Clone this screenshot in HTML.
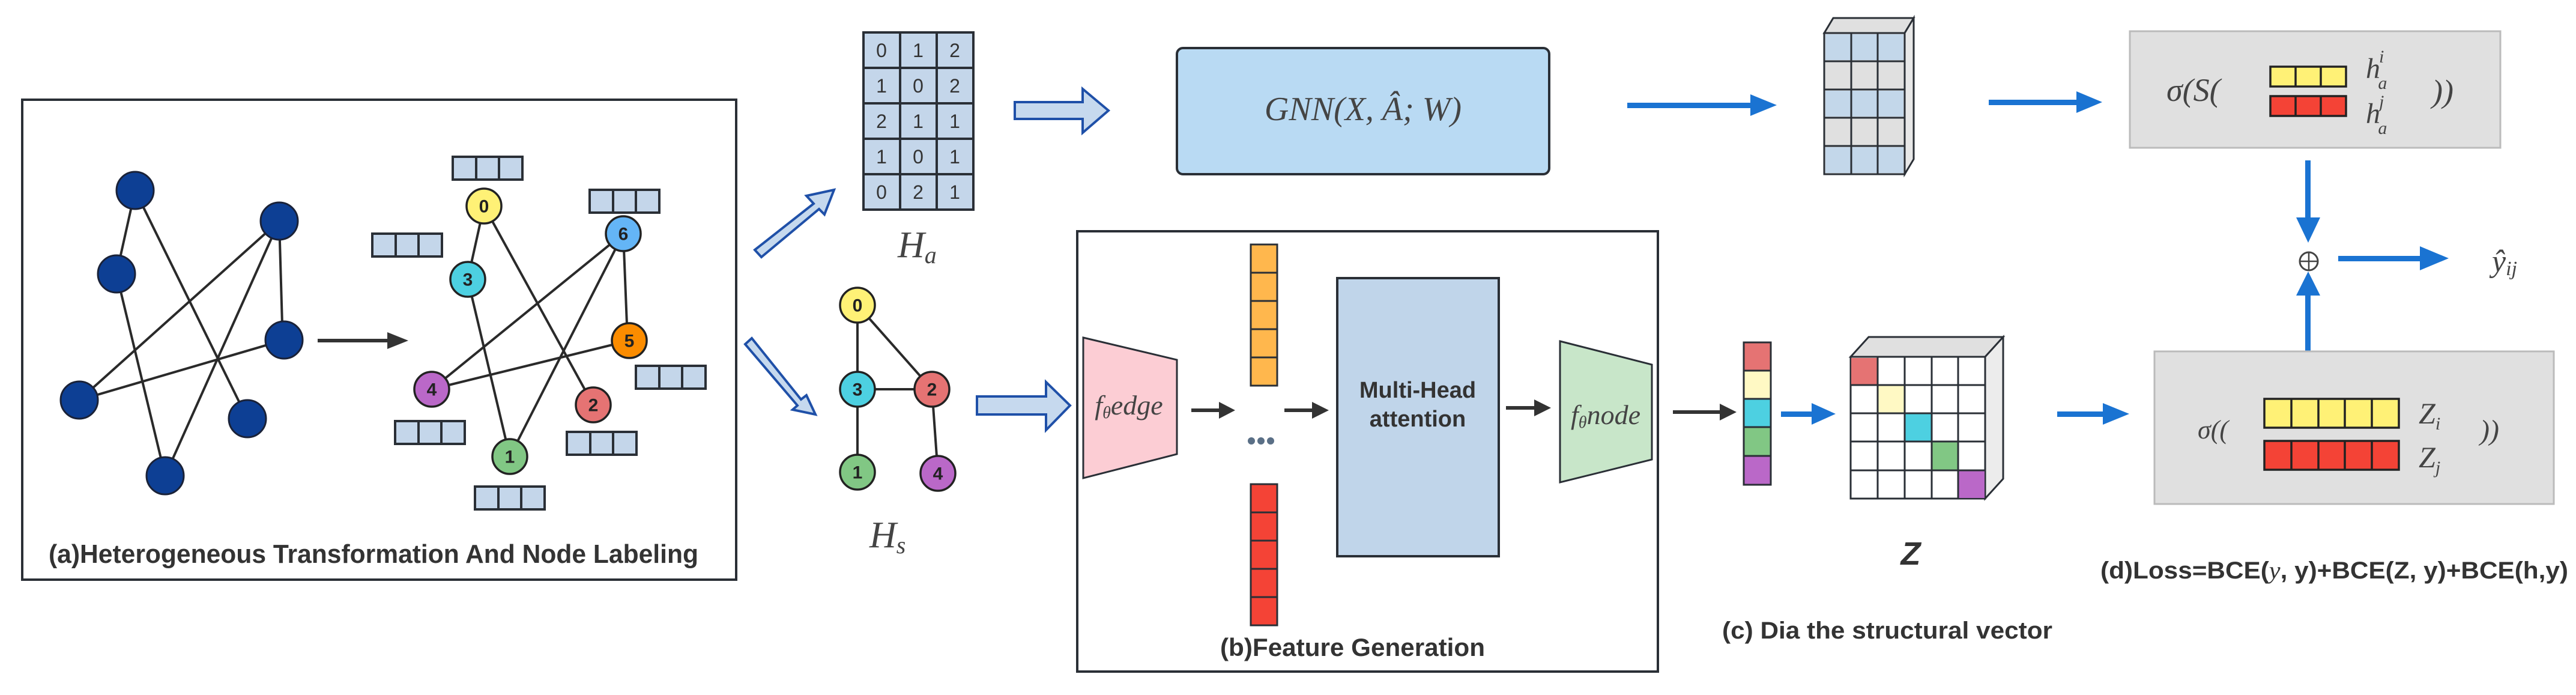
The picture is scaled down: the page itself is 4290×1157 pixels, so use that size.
<!DOCTYPE html>
<html><head><meta charset="utf-8"><style>
html,body{margin:0;padding:0;background:#fff;}
svg{display:block;}
.cap{font-family:"Liberation Sans",sans-serif;font-weight:bold;fill:#333;}
.m{font-family:"Liberation Serif",serif;font-style:italic;fill:#444;}
.n{font-family:"Liberation Sans",sans-serif;font-weight:bold;font-size:30px;fill:#222;text-anchor:middle;dominant-baseline:central;}
.mx{font-family:"Liberation Sans",sans-serif;font-size:32px;fill:#333;text-anchor:middle;dominant-baseline:central;}
</style></head><body>
<svg width="4290" height="1157" viewBox="0 0 4290 1157" xmlns="http://www.w3.org/2000/svg">
<defs>
<g id="fb"><rect x="0" y="0" width="116" height="38" fill="#c4d6ea" stroke="#2a2f36" stroke-width="4"/><line x1="39" y1="0" x2="39" y2="38" stroke="#2a2f36" stroke-width="4"/><line x1="77" y1="0" x2="77" y2="38" stroke="#2a2f36" stroke-width="4"/></g>
</defs>

<!-- (a) box -->
<rect x="37" y="166" width="1189" height="799" fill="#fff" stroke="#2a2f36" stroke-width="4"/>
<g stroke="#2a2a2a" stroke-width="4">
<line x1="225" y1="317" x2="194" y2="456"/><line x1="225" y1="317" x2="412" y2="697"/>
<line x1="194" y1="456" x2="275" y2="792"/><line x1="465" y1="368" x2="132" y2="666"/>
<line x1="465" y1="368" x2="275" y2="792"/><line x1="465" y1="368" x2="470" y2="540"/>
<line x1="473" y1="566" x2="132" y2="666"/>
</g>
<g fill="#0d3f94" stroke="#1a2238" stroke-width="3">
<ellipse cx="225" cy="317" rx="31" ry="31"/><ellipse cx="465" cy="368" rx="31" ry="31"/>
<ellipse cx="194" cy="456" rx="31" ry="31"/><ellipse cx="473" cy="566" rx="31" ry="31"/>
<ellipse cx="132" cy="666" rx="31" ry="31"/><ellipse cx="412" cy="697" rx="31" ry="31"/>
<ellipse cx="275" cy="792" rx="31" ry="31"/>
</g>
<line x1="529" y1="567" x2="650" y2="567" stroke="#333" stroke-width="6"/>
<polygon points="645,553 680,567 645,581" fill="#333"/>
<g stroke="#2a2a2a" stroke-width="4">
<line x1="806" y1="343" x2="779" y2="465"/><line x1="806" y1="343" x2="988" y2="674"/>
<line x1="779" y1="465" x2="849" y2="760"/><line x1="1038" y1="389" x2="719" y2="648"/>
<line x1="1038" y1="389" x2="849" y2="760"/><line x1="1038" y1="389" x2="1044" y2="540"/>
<line x1="1048" y1="567" x2="719" y2="648"/>
</g>
<g stroke="#222" stroke-width="3.5">
<circle cx="806" cy="343" r="29" fill="#fff176"/><circle cx="1038" cy="389" r="29" fill="#64b5f6"/>
<circle cx="779" cy="465" r="29" fill="#4dd0e1"/><circle cx="1048" cy="567" r="29" fill="#fb8c00"/>
<circle cx="719" cy="648" r="29" fill="#ba68c8"/><circle cx="988" cy="674" r="29" fill="#e57373"/>
<circle cx="849" cy="760" r="29" fill="#81c784"/>
</g>
<text class="n" x="806" y="344">0</text><text class="n" x="1038" y="390">6</text>
<text class="n" x="779" y="466">3</text><text class="n" x="1048" y="568">5</text>
<text class="n" x="719" y="649">4</text><text class="n" x="988" y="675">2</text>
<text class="n" x="849" y="761">1</text>
<use href="#fb" x="754" y="261"/><use href="#fb" x="982" y="316"/><use href="#fb" x="620" y="389"/>
<use href="#fb" x="1059" y="609"/><use href="#fb" x="658" y="701"/><use href="#fb" x="944" y="719"/>
<use href="#fb" x="791" y="810"/>
<text class="cap" x="81" y="937" font-size="44" textLength="1082" lengthAdjust="spacingAndGlyphs">(a)Heterogeneous Transformation And Node Labeling</text>

<!-- hollow arrows -->
<g fill="#c6d9ee" stroke="#1f50a8" stroke-width="4" stroke-linejoin="miter">
<polygon points="1257,416 1355,339 1343,326 1389,316 1373,357 1364,348 1268,428"/>
<polygon points="1241,573 1252,563 1334,665 1343,658 1358,690 1320,682 1328,675"/>
<polygon points="1690,170 1803,170 1803,148 1846,184 1803,221 1803,198 1690,198"/>
<polygon points="1627,660 1742,660 1742,636 1782,675 1742,716 1742,690 1627,690"/>
</g>

<!-- Ha matrix -->
<rect x="1438" y="54" width="183" height="295" fill="#c4d6ea" stroke="#2a2f36" stroke-width="4"/>
<g stroke="#2a2f36" stroke-width="4">
<line x1="1499" y1="54" x2="1499" y2="349"/><line x1="1560" y1="54" x2="1560" y2="349"/>
<line x1="1438" y1="113" x2="1621" y2="113"/><line x1="1438" y1="172" x2="1621" y2="172"/>
<line x1="1438" y1="231" x2="1621" y2="231"/><line x1="1438" y1="290" x2="1621" y2="290"/>
</g>
<g class="mx">
<text x="1468" y="84">0</text><text x="1529" y="84">1</text><text x="1590" y="84">2</text>
<text x="1468" y="143">1</text><text x="1529" y="143">0</text><text x="1590" y="143">2</text>
<text x="1468" y="202">2</text><text x="1529" y="202">1</text><text x="1590" y="202">1</text>
<text x="1468" y="261">1</text><text x="1529" y="261">0</text><text x="1590" y="261">1</text>
<text x="1468" y="320">0</text><text x="1529" y="320">2</text><text x="1590" y="320">1</text>
</g>
<text class="m" x="1495" y="428" font-size="62">H<tspan font-size="40" dy="10">a</tspan></text>

<!-- Hs graph -->
<g stroke="#2a2a2a" stroke-width="4">
<line x1="1428" y1="508" x2="1428" y2="786"/><line x1="1428" y1="508" x2="1552" y2="648"/>
<line x1="1428" y1="648" x2="1552" y2="648"/><line x1="1552" y1="648" x2="1562" y2="788"/>
</g>
<g stroke="#222" stroke-width="3.5">
<circle cx="1428" cy="508" r="29" fill="#fff176"/><circle cx="1428" cy="648" r="29" fill="#4dd0e1"/>
<circle cx="1552" cy="648" r="29" fill="#e57373"/><circle cx="1428" cy="786" r="29" fill="#81c784"/>
<circle cx="1562" cy="788" r="29" fill="#ba68c8"/>
</g>
<text class="n" x="1428" y="509">0</text><text class="n" x="1428" y="649">3</text>
<text class="n" x="1552" y="649">2</text><text class="n" x="1428" y="787">1</text><text class="n" x="1562" y="789">4</text>
<text class="m" x="1448" y="911" font-size="62">H<tspan font-size="40" dy="10">s</tspan></text>

<!-- GNN box -->
<rect x="1960" y="80" width="620" height="210" rx="10" fill="#b9daf3" stroke="#2a2f36" stroke-width="4"/>
<text class="m" x="2270" y="200" font-size="56" text-anchor="middle">GNN(X, Â; W)</text>

<!-- (b) box -->
<rect x="1794" y="385" width="967" height="733" fill="#fff" stroke="#2a2f36" stroke-width="4"/>
<polygon points="1804,562 1960,599 1960,756 1804,796" fill="#fccdd4" stroke="#2a2f36" stroke-width="3"/>
<text class="m" x="1880" y="690" font-size="46" text-anchor="middle">f<tspan font-size="28" dy="6">θ</tspan><tspan dy="-6">edge</tspan></text>
<g fill="#333">
<line x1="1984" y1="683" x2="2035" y2="683" stroke="#333" stroke-width="6"/><polygon points="2030,669 2057,683 2030,697"/>
<line x1="2139" y1="683" x2="2190" y2="683" stroke="#333" stroke-width="6"/><polygon points="2185,669 2213,683 2185,697"/>
<line x1="2508" y1="679" x2="2560" y2="679" stroke="#333" stroke-width="6"/><polygon points="2555,665 2583,679 2555,693"/>
<line x1="2786" y1="686" x2="2868" y2="686" stroke="#333" stroke-width="6"/><polygon points="2864,672 2892,686 2864,700"/>
</g>
<g fill="#5a6f86"><circle cx="2084" cy="734" r="6"/><circle cx="2100" cy="734" r="6"/><circle cx="2116" cy="734" r="6"/></g>
<g stroke="#2a2f36" stroke-width="3">
<rect x="2083" y="407" width="44" height="235" fill="#ffb74d"/>
<line x1="2083" y1="454" x2="2127" y2="454"/><line x1="2083" y1="501" x2="2127" y2="501"/>
<line x1="2083" y1="548" x2="2127" y2="548"/><line x1="2083" y1="595" x2="2127" y2="595"/>
<rect x="2083" y="806" width="44" height="235" fill="#f44336"/>
<line x1="2083" y1="853" x2="2127" y2="853"/><line x1="2083" y1="900" x2="2127" y2="900"/>
<line x1="2083" y1="947" x2="2127" y2="947"/><line x1="2083" y1="994" x2="2127" y2="994"/>
</g>
<rect x="2227" y="463" width="269" height="463" fill="#c0d5ea" stroke="#2a2f36" stroke-width="4"/>
<text class="cap" x="2361" y="662" font-size="38" text-anchor="middle" fill="#222">Multi-Head</text>
<text class="cap" x="2361" y="710" font-size="38" text-anchor="middle" fill="#222">attention</text>
<polygon points="2598,568 2751,607 2751,765 2598,803" fill="#c8e6c9" stroke="#2a2f36" stroke-width="3"/>
<text class="m" x="2674" y="706" font-size="46" text-anchor="middle">f<tspan font-size="28" dy="6">θ</tspan><tspan dy="-6">node</tspan></text>
<text class="cap" x="2032" y="1092" font-size="42" textLength="441" lengthAdjust="spacingAndGlyphs">(b)Feature Generation</text>

<!-- blue arrows -->
<g fill="#1a73d2">
<rect x="2710" y="171" width="210" height="9"/><polygon points="2915,157 2959,175 2915,193"/>
<rect x="3312" y="166" width="150" height="9"/><polygon points="3458,152 3501,170 3458,188"/>
<rect x="3839" y="267" width="9" height="100"/><polygon points="3824,362 3864,362 3844,404"/>
<rect x="3839" y="490" width="9" height="97"/><polygon points="3824,492 3864,492 3844,452"/>
<rect x="3894" y="426" width="140" height="9"/><polygon points="4030,410 4078,430 4030,450"/>
<rect x="2966" y="685" width="55" height="9"/><polygon points="3017,671 3057,689 3017,707"/>
<rect x="3426" y="685" width="80" height="9"/><polygon points="3502,671 3546,689 3502,707"/>
</g>

<!-- 3D matrix -->
<polygon points="3038,55 3053,30 3187,30 3172,55" fill="#e0e0e0" stroke="#2a2f36" stroke-width="3"/>
<polygon points="3172,55 3187,30 3187,265 3172,290" fill="#e8e8e8" stroke="#2a2f36" stroke-width="3"/>
<rect x="3038" y="55" width="134" height="235" fill="#e0e0e0" stroke="#2a2f36" stroke-width="3"/>
<g fill="#c3d7ea"><rect x="3040" y="57" width="130" height="43"/><rect x="3040" y="151" width="130" height="43"/><rect x="3040" y="245" width="130" height="43"/></g>
<g stroke="#2a2f36" stroke-width="3">
<line x1="3083" y1="55" x2="3083" y2="290"/><line x1="3127" y1="55" x2="3127" y2="290"/>
<line x1="3038" y1="102" x2="3172" y2="102"/><line x1="3038" y1="149" x2="3172" y2="149"/>
<line x1="3038" y1="196" x2="3172" y2="196"/><line x1="3038" y1="243" x2="3172" y2="243"/>
</g>

<!-- top right box -->
<rect x="3547" y="52" width="617" height="194" fill="#e0e0e0" stroke="#bbb" stroke-width="3"/>
<text class="m" x="3608" y="168" font-size="54">σ(S(</text>
<g stroke="#222" stroke-width="3.5">
<rect x="3781" y="111" width="126" height="33" fill="#fff176"/><line x1="3823" y1="111" x2="3823" y2="144"/><line x1="3865" y1="111" x2="3865" y2="144"/>
<rect x="3781" y="160" width="126" height="33" fill="#f44336"/><line x1="3823" y1="160" x2="3823" y2="193"/><line x1="3865" y1="160" x2="3865" y2="193"/>
</g>
<text class="m" x="3940" y="130" font-size="48">h<tspan font-size="30" dy="-26" dx="-2">i</tspan><tspan font-size="30" dx="-10" dy="44">a</tspan></text>
<text class="m" x="3940" y="205" font-size="48">h<tspan font-size="30" dy="-26" dx="-2">j</tspan><tspan font-size="30" dx="-10" dy="44">a</tspan></text>
<text class="m" x="4050" y="170" font-size="54" font-style="normal">))</text>
<circle cx="3845" cy="435" r="15" fill="none" stroke="#444" stroke-width="3"/>
<line x1="3830" y1="435" x2="3860" y2="435" stroke="#444" stroke-width="2.5"/><line x1="3845" y1="420" x2="3845" y2="450" stroke="#444" stroke-width="2.5"/>
<text class="m" x="4150" y="452" font-size="52">ŷ<tspan font-size="34" dy="6">ij</tspan></text>

<!-- color vector -->
<g stroke="#2a2f36" stroke-width="3">
<rect x="2904" y="570" width="45" height="47" fill="#e57373"/><rect x="2904" y="617" width="45" height="47" fill="#fff9c4"/>
<rect x="2904" y="664" width="45" height="47" fill="#4dd0e1"/><rect x="2904" y="711" width="45" height="48" fill="#81c784"/>
<rect x="2904" y="759" width="45" height="48" fill="#ba68c8"/>
</g>
<!-- Z matrix -->
<polygon points="3082,594 3112,561 3336,561 3306,594" fill="#e0e0e0" stroke="#2a2f36" stroke-width="3"/>
<polygon points="3306,594 3336,561 3336,797 3306,830" fill="#ececec" stroke="#2a2f36" stroke-width="3"/>
<rect x="3082" y="594" width="224" height="236" fill="#fff" stroke="#2a2f36" stroke-width="3"/>
<rect x="3083" y="596" width="44" height="45" fill="#e57373"/>
<rect x="3127" y="641" width="45" height="47" fill="#fff9c4"/>
<rect x="3172" y="688" width="45" height="47" fill="#4dd0e1"/>
<rect x="3217" y="735" width="44" height="48" fill="#81c784"/>
<rect x="3261" y="783" width="44" height="46" fill="#ba68c8"/>
<g stroke="#2a2f36" stroke-width="3">
<line x1="3127" y1="594" x2="3127" y2="830"/><line x1="3172" y1="594" x2="3172" y2="830"/>
<line x1="3217" y1="594" x2="3217" y2="830"/><line x1="3261" y1="594" x2="3261" y2="830"/>
<line x1="3082" y1="641" x2="3306" y2="641"/><line x1="3082" y1="688" x2="3306" y2="688"/>
<line x1="3082" y1="735" x2="3306" y2="735"/><line x1="3082" y1="783" x2="3306" y2="783"/>
</g>
<text class="cap" x="3182" y="940" font-size="54" font-style="italic" text-anchor="middle" fill="#222">Z</text>
<text class="cap" x="2868" y="1063" font-size="40" textLength="550" lengthAdjust="spacingAndGlyphs">(c) Dia the structural vector</text>

<!-- bottom right box -->
<rect x="3588" y="585" width="665" height="254" fill="#e0e0e0" stroke="#bbb" stroke-width="3"/>
<text class="m" x="3660" y="730" font-size="44">σ((</text>
<g stroke="#222" stroke-width="3.5">
<rect x="3771" y="664" width="224" height="48" fill="#fff176"/>
<line x1="3816" y1="664" x2="3816" y2="712"/><line x1="3861" y1="664" x2="3861" y2="712"/><line x1="3905" y1="664" x2="3905" y2="712"/><line x1="3950" y1="664" x2="3950" y2="712"/>
<rect x="3771" y="734" width="224" height="48" fill="#f44336"/>
<line x1="3816" y1="734" x2="3816" y2="782"/><line x1="3861" y1="734" x2="3861" y2="782"/><line x1="3905" y1="734" x2="3905" y2="782"/><line x1="3950" y1="734" x2="3950" y2="782"/>
</g>
<text class="m" x="4028" y="705" font-size="50">Z<tspan font-size="30" dy="10">i</tspan></text>
<text class="m" x="4028" y="778" font-size="50">Z<tspan font-size="30" dy="10">j</tspan></text>
<text class="m" x="4130" y="732" font-size="48" font-style="normal">))</text>
<text class="cap" x="3498" y="963" font-size="40" textLength="779" lengthAdjust="spacingAndGlyphs">(d)Loss=BCE(<tspan font-family="Liberation Serif" font-style="italic" font-weight="normal">y</tspan>,  y)+BCE(Z, y)+BCE(h,y)</text>
</svg>
</body></html>
